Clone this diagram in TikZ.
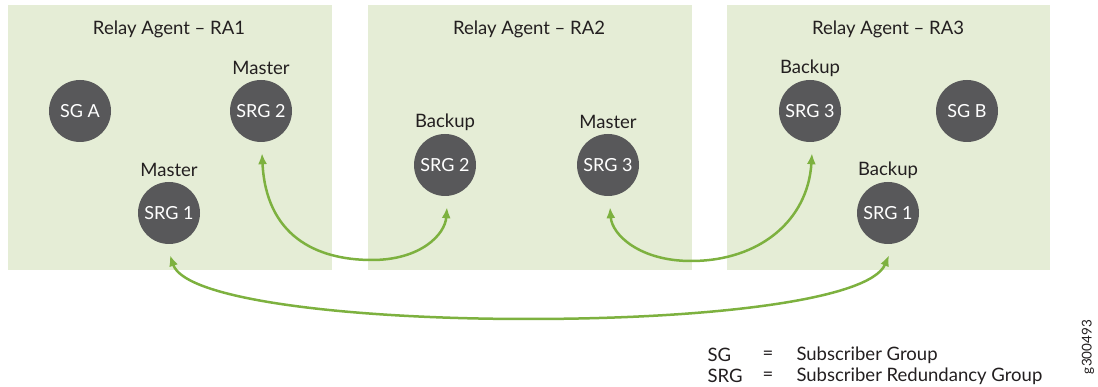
\documentclass[tikz,border=0pt]{standalone}
\usepackage{fontspec}
\setmainfont{Lato}
\usetikzlibrary{arrows.meta,calc}
\definecolor{panelgreen}{HTML}{E5EDD6}
\definecolor{nodegray}{HTML}{58585A}
\definecolor{arrowgreen}{HTML}{7DB13F}
\definecolor{txt}{HTML}{231F20}
\tikzset{
  panel/.style={fill=panelgreen,draw=none},
  grp/.style={circle,fill=nodegray,draw=none,minimum size=62pt,inner sep=0pt,text=white,font=\fontsize{18}{21}\selectfont},
  role/.style={text=txt,font=\fontsize{18.5}{22}\selectfont},
  title/.style={text=txt,font=\fontsize{18.5}{22}\selectfont},
  legend/.style={text=txt,font=\fontsize{18.5}{22}\selectfont,anchor=west},
  link/.style={draw=arrowgreen,line width=2.5pt,{Latex[length=11pt,width=9pt]}-{Latex[length=11pt,width=9pt]}},
}
\begin{document}
\begin{tikzpicture}[x=1pt,y=-1pt]
\useasboundingbox (0,0) rectangle (1098,387);
% panels
\fill[panel] (8,5) rectangle (332,270);
\fill[panel] (368,5) rectangle (692,270);
\fill[panel] (727,5) rectangle (1050,270);
\node[title] (t1) at (169,29) {Relay Agent – RA1};
\node[title] (t2) at (529,29) {Relay Agent – RA2};
\node[title] (t3) at (888,29) {Relay Agent – RA3};
% RA1
\node[grp] (sga) at (80,111) {SG A};
\node[grp] (srgtwoa) at (261,111) {SRG 2};
\node[grp] (srgonea) at (169,213) {SRG 1};
\node[role] (ma) at (261,68) {Master};
\node[role] (mb) at (169,170) {Master};
% RA2
\node[grp] (srgtwob) at (445,165) {SRG 2};
\node[grp] (srgthreeb) at (608,165) {SRG 3};
\node[role] (bb) at (445,122) {Backup};
\node[role] (mc) at (608,122) {Master};
% RA3
\node[grp] (srgthreec) at (810,111) {SRG 3};
\node[grp] (sgb) at (967,111) {SG B};
\node[grp] (srgonec) at (888,213) {SRG 1};
\node[role] (bc) at (810,68) {Backup};
\node[role] (bd) at (888,170) {Backup};
% links
\draw[link] ($(srgtwoa.south)+(1,11)$) .. controls (266,235) and (315,260) .. (372,260) .. controls (420,260) and (445,235) .. ($(srgtwob.south)+(2,11)$);
\draw[link] ($(srgthreeb.south)+(2,11)$) .. controls (612,235) and (640,261) .. (691,261) .. controls (760,261) and (808,220) .. ($(srgthreec.south)+(2,11)$);
\draw[link] ($(srgonea.south)+(1,11)$) .. controls (185,300) and (350,319) .. (528,319) .. controls (710,319) and (870,300) .. ($(srgonec.south)+(1,11)$);
% legend
\node[legend] (l1) at (704,355) {SG};
\node[legend] (l2) at (759,355) {=};
\node[legend] (l3) at (793,355) {Subscriber Group};
\node[legend] (l4) at (704,376) {SRG};
\node[legend] (l5) at (759,376) {=};
\node[legend] (l6) at (793,376) {Subscriber Redundancy Group};
\node[text=txt,font=\fontsize{13.5}{16}\selectfont,rotate=90] (id) at (1088,347) {g300493};
\end{tikzpicture}
\end{document}
